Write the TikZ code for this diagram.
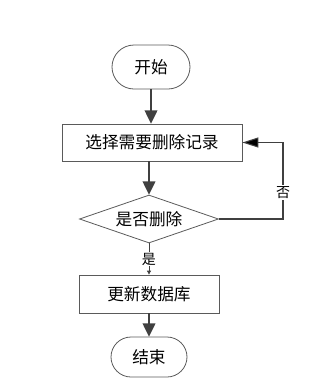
\documentclass[tikz,border=0pt]{standalone}
\usepackage{fontspec}
\setmainfont{Noto Sans CJK SC}
\usetikzlibrary{shapes.geometric,shapes.misc,arrows.meta}
\definecolor{edgegray}{HTML}{5A5A5A}
\definecolor{arrowgray}{HTML}{404040}
\tikzset{
  term/.style={rounded rectangle, draw=edgegray, line width=0.6pt, inner sep=0pt, font=\fontsize{12.5pt}{14pt}\selectfont},
  procbox/.style={rectangle, draw=edgegray, line width=0.6pt, inner sep=0pt, font=\fontsize{12.5pt}{14pt}\selectfont},
  decbox/.style={diamond, aspect=3, draw=edgegray, line width=0.6pt, inner sep=0pt, font=\fontsize{12.5pt}{14pt}\selectfont},
  bigarrow/.style={draw=arrowgray, line width=1.5pt, -{Triangle[length=10pt,width=9.5pt]}},
  thinarrow/.style={draw=arrowgray, line width=0.6pt, -{Triangle[length=3pt,width=3pt]}},
  looparrow/.style={draw=arrowgray, line width=0.8pt, -{Triangle[length=12pt,width=7.5pt,fill=black]}},
  lbl/.style={fill=white, inner sep=1pt, font=\fontsize{10.5pt}{12pt}\selectfont}
}
\begin{document}
\begin{tikzpicture}[x=0.75pt,y=-0.75pt]
\useasboundingbox (0,0) rectangle (327,390);
\node[term, minimum width=58.5pt, minimum height=33pt] (start) at (151,67) {开始};
\node[procbox, minimum width=135pt, minimum height=27.75pt] (select) at (152,142.5) {选择需要删除记录};
\node[decbox, minimum width=104.25pt, minimum height=36pt] (decide) at (149,219) {是否删除};
\node[procbox, minimum width=105pt, minimum height=28.5pt] (update) at (149,294) {更新数据库};
\node[term, minimum width=57pt, minimum height=30pt] (end) at (149,357) {结束};
\coordinate (loopx) at (283,0);
\draw[bigarrow] (start.south) -- (start.south |- select.north);
\draw[bigarrow] (decide.north |- select.south) -- (decide.north);
\draw[thinarrow] (decide.south) -- node[lbl] {是} (update.north);
\draw[bigarrow] (update.south) -- (end.north);
\coordinate (c1) at (decide.east -| loopx);
\coordinate (c2) at (select.east -| loopx);
\draw[looparrow] (decide.east) -- (c1) -- node[lbl, pos=0.35] {否} (c2) -- (select.east);
\end{tikzpicture}
\end{document}
